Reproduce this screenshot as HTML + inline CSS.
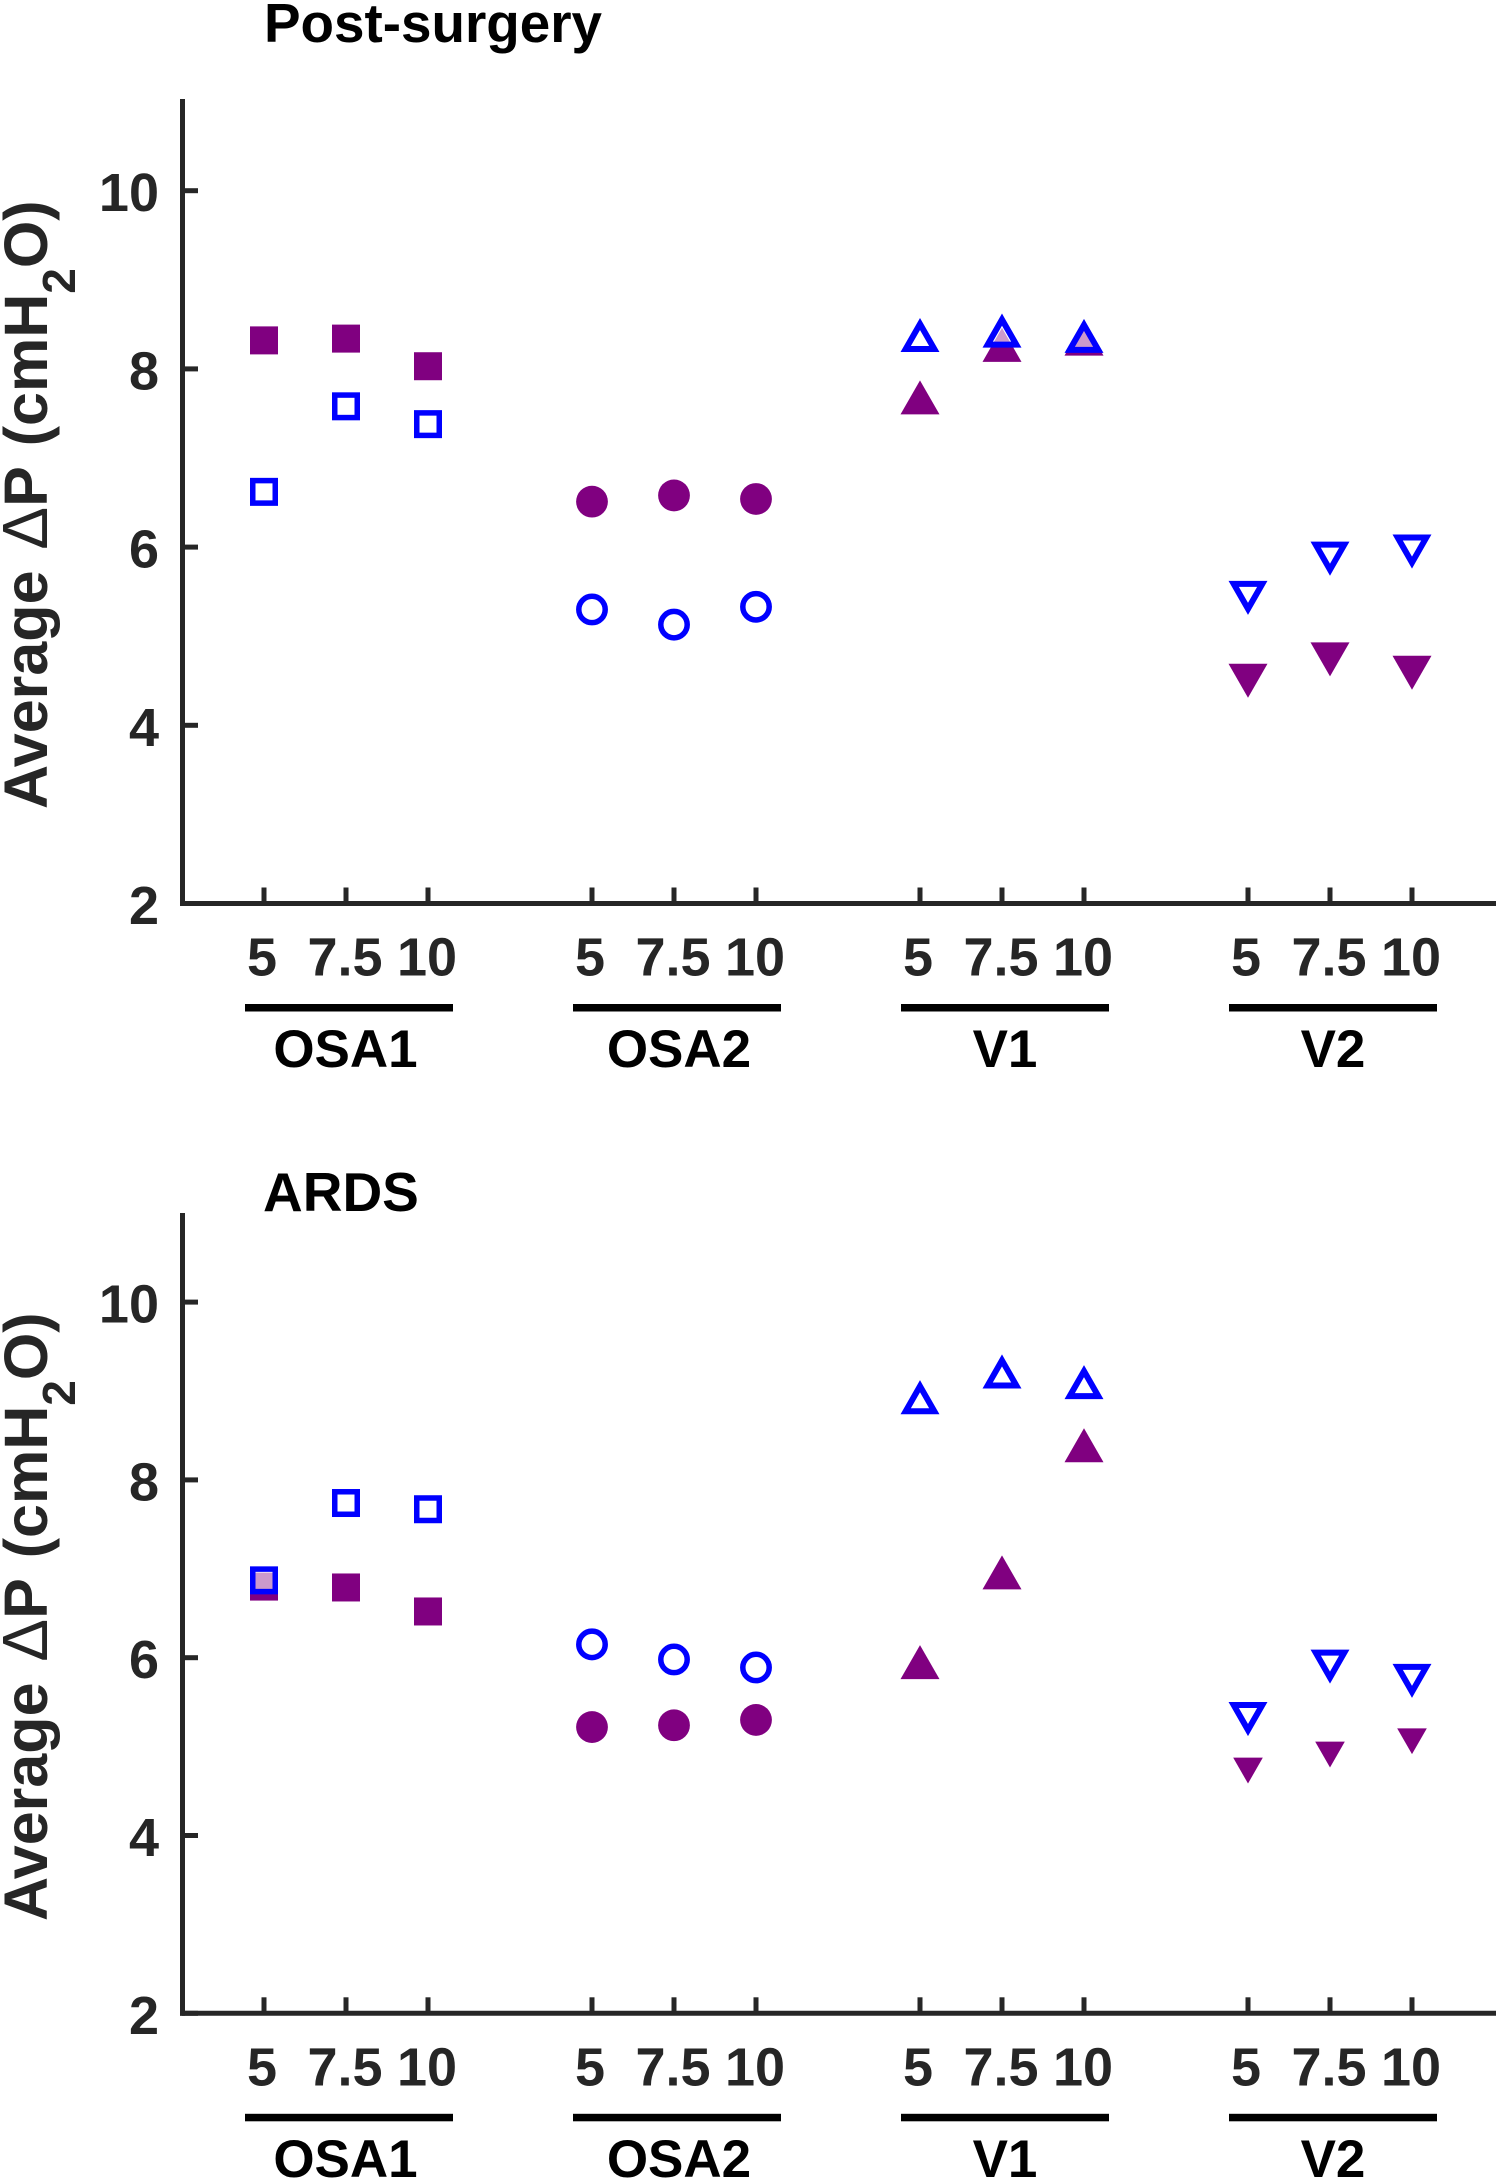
<!DOCTYPE html>
<html lang="en">
<head>
<meta charset="utf-8">
<title>Average pressure swing by device and PEEP</title>
<style>
  html, body { margin: 0; padding: 0; background: #fff; }
  svg { display: block; font-family: "Liberation Sans", Arial, sans-serif; font-weight: bold; }
</style>
</head>
<body>
<svg id="figure" xmlns="http://www.w3.org/2000/svg" width="1500" height="2181" viewBox="0 0 1500 2181">
  <text x="264" y="42" font-size="54.8" fill="#000">Post-surgery</text>
  <text x="263" y="1211" font-size="55" fill="#000">ARDS</text>
  <text transform="translate(47,809) rotate(-90)" font-size="61" fill="#262626">Average <tspan dx="4" font-weight="normal" font-size="64">Δ</tspan>P <tspan dx="4">(cmH</tspan><tspan dy="28" font-size="46">2</tspan><tspan dy="-28">O)</tspan></text>
  <text transform="translate(47,1921) rotate(-90)" font-size="61" fill="#262626">Average <tspan dx="4" font-weight="normal" font-size="64">Δ</tspan>P <tspan dx="4">(cmH</tspan><tspan dy="28" font-size="46">2</tspan><tspan dy="-28">O)</tspan></text>
</svg>
<script>
const yTicks = [2, 4, 6, 8, 10];
const settingLabels = ["5", "7.5", "10"];
const groupLabels = ["OSA1", "OSA2", "V1", "V2"];

const postOsa1Filled = [8.32, 8.34, 8.03];
const postOsa1Open = [6.62, 7.58, 7.38];
const postOsa2Filled = [6.51, 6.58, 6.54];
const postOsa2Open = [5.30, 5.13, 5.33];
const postV1Filled = [7.68, 8.27, 8.34];
const postV1Open = [8.38, 8.43, 8.37];
const postV2Filled = [4.50, 4.74, 4.59];
const postV2Open = [5.43, 5.87, 5.95];

const ardsOsa1Filled = [6.80, 6.79, 6.52];
const ardsOsa1Open = [6.87, 7.74, 7.67];
const ardsOsa2Filled = [5.22, 5.24, 5.30];
const ardsOsa2Open = [6.15, 5.98, 5.89];
const ardsV1Filled = [5.95, 6.96, 8.39];
const ardsV1Open = [8.93, 9.22, 9.10];
const ardsV2Filled = [4.73, 4.91, 5.06];
const ardsV2Open = [5.31, 5.90, 5.74];

const NS = "http://www.w3.org/2000/svg";
const figure = document.getElementById("figure");
const PURPLE = "#800080";
const BLUE = "#0000ff";
const INK = "#262626";
const HOLE = "rgba(255,255,255,0.6)";

function make(tag, attrs) {
  const el = document.createElementNS(NS, tag);
  for (const key in attrs) el.setAttribute(key, attrs[key]);
  figure.appendChild(el);
  return el;
}

function xPos(groupIndex, settingIndex) {
  return 182 + 82 * (1 + groupIndex * 4 + settingIndex);
}

function groupLabelX(groupIndex) {
  const nudge = groupIndex === 0 ? -0.5 : groupIndex === 1 ? 5 : 3;
  return xPos(groupIndex, 1) + nudge;
}

function trianglePoints(cx, cy, w, h, up) {
  const dir = up ? 1 : -1;
  return [
    [cx, cy - dir * h / 2],
    [cx + w / 2, cy + dir * h / 2],
    [cx - w / 2, cy + dir * h / 2]
  ].map(p => p.join(",")).join(" ");
}

function drawFilled(shape, cx, cy, scale) {
  if (shape === "square") {
    return make("rect", { x: cx - 14, y: cy - 14, width: 28, height: 28, fill: PURPLE });
  }
  if (shape === "circle") {
    return make("circle", { cx: cx, cy: cy, r: 15.9, fill: PURPLE });
  }
  return make("polygon", { points: trianglePoints(cx, cy, 39 * scale, 34 * scale, shape === "up"), fill: PURPLE });
}

function drawOpen(shape, cx, cy) {
  if (shape === "square") {
    return make("rect", { x: cx - 11.25, y: cy - 11.25, width: 22.5, height: 22.5, fill: HOLE, stroke: BLUE, "stroke-width": 5.5 });
  }
  if (shape === "circle") {
    return make("circle", { cx: cx, cy: cy, r: 13.2, fill: HOLE, stroke: BLUE, "stroke-width": 5.5 });
  }
  const up = shape === "up";
  const shift = up ? 1.5 : -1.5;
  return make("polygon", { points: trianglePoints(cx, cy + shift, 28.6, 25, up), fill: HOLE, stroke: BLUE, "stroke-width": 6 });
}

function drawPanel(panel) {
  const yPos = v => panel.y0 - (v - 2) * panel.unit;

  const yAxis = make("line", { x1: 182.5, x2: 182.5, y1: panel.top, y2: panel.y0 + 2.5, stroke: INK, "stroke-width": 5 });
  
  

  const xAxis = make("line", { x1: 180, x2: 1496, y1: panel.y0, y2: panel.y0, stroke: INK, "stroke-width": 5 });
  
  

  yTicks.forEach(function (tick) {
    const y = yPos(tick);
    const mark = make("line", { x1: 182, x2: 198, y1: y, y2: y, stroke: INK, "stroke-width": 5 });
    
    
    const label = make("text", { x: 159, y: y + 20.5, "text-anchor": "end", "font-size": 54, fill: INK });
    label.textContent = String(tick);
    
    
  });

  groupLabels.forEach(function (group, g) {
    settingLabels.forEach(function (setting, s) {
      const x = xPos(g, s);
      const mark = make("line", { x1: x, x2: x, y1: panel.y0 - 16, y2: panel.y0, stroke: INK, "stroke-width": 5 });
      
      
      const label = make("text", { x: s === 0 ? x - 2 : x - 1, y: panel.y0 + 72, "text-anchor": "middle", "font-size": 54, fill: INK });
      label.textContent = setting;
      
      
    });

    const bar = make("rect", { x: xPos(g, 0) - 19, y: panel.y0 + 100.5, width: 208, height: 7.5, fill: "#000" });
    
    

    const groupLabel = make("text", { x: groupLabelX(g), y: panel.y0 + 163.5, "text-anchor": "middle", "font-size": 53, fill: "#000" });
    groupLabel.textContent = group;
    
    
  });

  panel.series.forEach(function (entry, g) {
    entry.filled.forEach(function (value, s) {
      const el = drawFilled(entry.shape, xPos(g, s), yPos(value), entry.filledScale);
      
      
    });
  });
  panel.series.forEach(function (entry, g) {
    entry.open.forEach(function (value, s) {
      const el = drawOpen(entry.shape, xPos(g, s), yPos(value));
      
      
    });
  });
}

drawPanel({
  name: "post-surgery", y0: 903.5, unit: 89.1, top: 99,
  series: [
    { shape: "square", filled: postOsa1Filled, open: postOsa1Open, filledScale: 1 },
    { shape: "circle", filled: postOsa2Filled, open: postOsa2Open, filledScale: 1 },
    { shape: "up", filled: postV1Filled, open: postV1Open, filledScale: 1 },
    { shape: "down", filled: postV2Filled, open: postV2Open, filledScale: 1 }
  ]
});

drawPanel({
  name: "ards", y0: 2013.3, unit: 88.9, top: 1213,
  series: [
    { shape: "square", filled: ardsOsa1Filled, open: ardsOsa1Open, filledScale: 1 },
    { shape: "circle", filled: ardsOsa2Filled, open: ardsOsa2Open, filledScale: 1 },
    { shape: "up", filled: ardsV1Filled, open: ardsV1Open, filledScale: 1 },
    { shape: "down", filled: ardsV2Filled, open: ardsV2Open, filledScale: 0.76 }
  ]
});
</script>
</body>
</html>
